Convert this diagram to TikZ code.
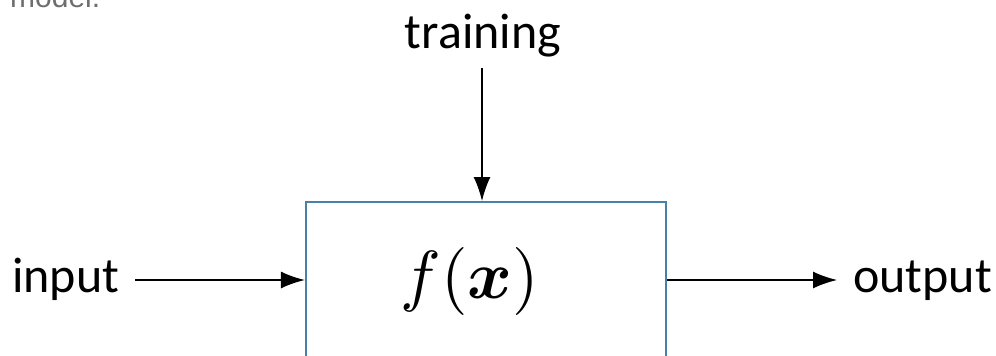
\documentclass[tikz,border=0pt]{standalone}
\usepackage{amsmath}
\usepackage{graphicx}
\usepackage{fontspec}
\usetikzlibrary{arrows.meta}
\newfontfamily\calibfont{Carlito}
\newfontfamily\capfont{Liberation Sans}
\definecolor{boxblue}{HTML}{4682A8}
\definecolor{capgray}{HTML}{6E6E6E}
\tikzset{
  lbl/.style={inner sep=0pt, font=\calibfont\fontsize{50}{60}\selectfont},
  arr/.style={line width=1.6pt, -{Latex[length=24pt,width=17pt]}},
  modelbox/.style={draw=boxblue, line width=2.2pt, minimum width=360pt, minimum height=240pt, inner sep=0pt}
}
\begin{document}
\begin{tikzpicture}[x=1pt,y=-1pt]
\useasboundingbox (0,0) rectangle (996,356);
\clip (0,0) rectangle (996,356);
\node[inner sep=0pt, anchor=base west, text=capgray, font=\capfont\fontsize{30}{36}\selectfont] (cap) at (10,8) {model.};
\node[modelbox, anchor=north] (box) at (486,201) {};
\node[inner sep=0pt] (fx) at (470,281) {\scalebox{6.8}{$f(\boldsymbol{x})$}};
\node[lbl, anchor=base west] (input) at (12,292) {input};
\node[lbl, anchor=base west] (output) at (853,292) {output};
\node[lbl, anchor=base] (training) at (483,48) {training};
\coordinate (inS) at (135,280);
\coordinate (outE) at (837,280);
\coordinate (trS) at (482,68);
\draw[arr] (inS) -- (inS -| box.west);
\draw[arr] (outE -| box.east) -- (outE);
\draw[arr] (trS) -- (trS |- box.north);
\end{tikzpicture}
\end{document}
